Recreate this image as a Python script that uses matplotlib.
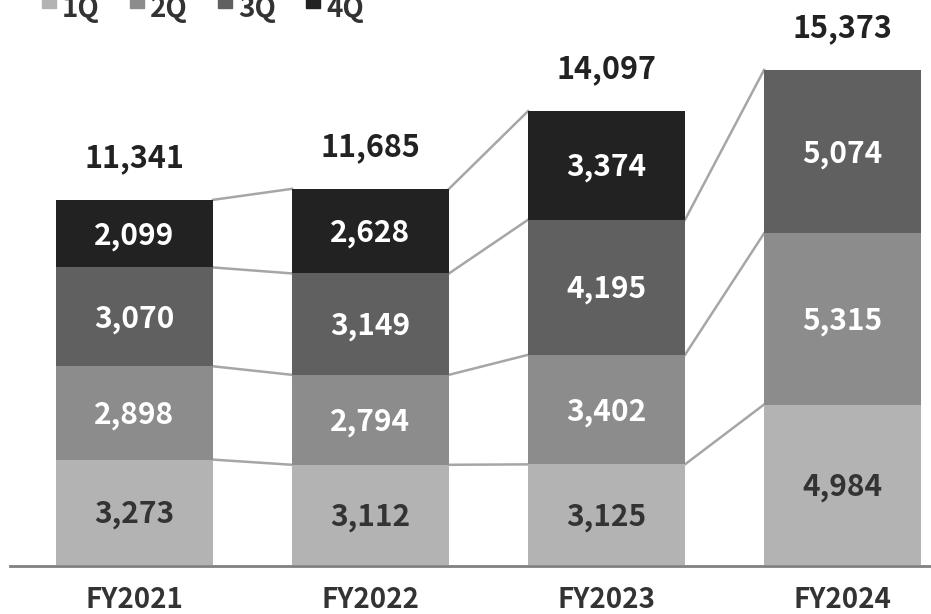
import matplotlib.pyplot as plt
from matplotlib.patches import Rectangle

plt.rcParams['font.family'] = ['Noto Sans CJK JP', 'DejaVu Sans']

# Datos del gráfico
years = ["FY2021", "FY2022", "FY2023", "FY2024"]
quarters = ["1Q", "2Q", "3Q", "4Q"]
q1 = [3273, 3112, 3125, 4984]
q2 = [2898, 2794, 3402, 5315]
q3 = [3070, 3149, 4195, 5074]
q4 = [2099, 2628, 3374, None]
totals = [11341, 11685, 14097, 15373]

colores = ["#b3b3b3", "#8c8c8c", "#606060", "#222222"]
texto_col = ["#333333", "white", "white", "white"]

W, H = 931, 614
fig = plt.figure(figsize=(W / 100, H / 100), dpi=100)
ax = fig.add_axes([0, 0, 1, 1])

x = list(range(len(years)))
ancho = 0.665
series = [q1, q2, q3, q4]

# acumulados para conectar barras
acum = []
base = [0] * len(years)
for s, c, tc in zip(series, colores, texto_col):
    tops = []
    for i in x:
        v = s[i]
        if v is None:
            tops.append(None)
            continue
        ax.bar(i, v, bottom=base[i], width=ancho, color=c, zorder=2)
        ax.text(i, base[i] + v / 2 - 60, f"{v:,}", ha="center", va="center",
                color=tc, fontsize=21.5, fontweight="bold", zorder=3)
        base[i] += v
        tops.append(base[i])
    acum.append(tops)

# líneas de conexión entre barras
for tops in acum:
    for i in range(len(years) - 1):
        if tops[i] is None or tops[i + 1] is None:
            continue
        ax.plot([i + ancho / 2, i + 1 - ancho / 2], [tops[i], tops[i + 1]],
                color="#a6a6a6", lw=1.8, zorder=1)

for i, t in enumerate(totals):
    ax.text(i, t + 1300, f"{t:,}", ha="center", va="center",
            color="#222222", fontsize=22, fontweight="bold")

for i, y in enumerate(years):
    ax.text(i, -1080, y, ha="center", va="center", color="#333333",
            fontsize=20, fontweight="bold")

ax.plot([-0.527, 3.4], [-30, -30], color="#808080", lw=2, zorder=4,
        clip_on=False)

ax.set_xlim(-0.570, 3.375)
ax.set_ylim(-1522, 17547)
ax.axis("off")

# leyenda dibujada a mano (queda cortada arriba como en el original)
for k, (c, q) in enumerate(zip(colores, quarters)):
    x0 = 42 + 88 * k
    fig.patches.append(Rectangle((x0 / W, 1 - 8 / H), 14 / W, 14 / H,
                                 transform=fig.transFigure, color=c,
                                 clip_on=False))
    fig.text((x0 + 20) / W, 1 - 17 / H, q, ha="left", va="baseline",
             color="#333333", fontsize=20, fontweight="bold")

plt.savefig("out.png", dpi=100)
